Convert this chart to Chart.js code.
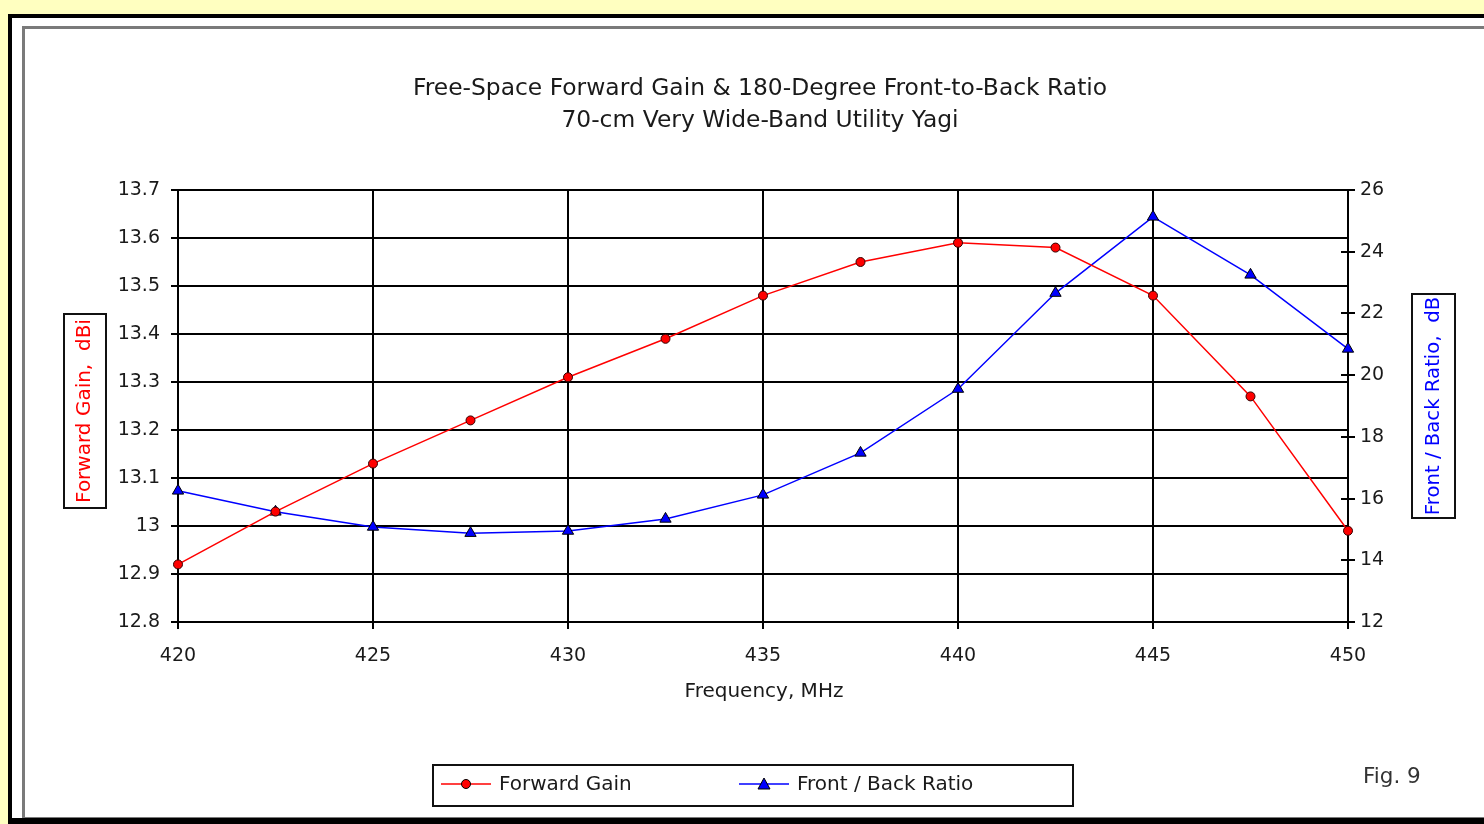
<!DOCTYPE html>
<html>
<head>
<meta charset="utf-8">
<title>70-cm Very Wide-Band Utility Yagi</title>
<script src="https://cdn.jsdelivr.net/npm/chart.js@4/dist/chart.umd.min.js"></script>
<style>
  html, body { margin: 0; padding: 0; background: #FFFFC0; }
  #wrap { width: 1484px; height: 824px; }
</style>
</head>
<body>
<div id="wrap"><canvas id="c" width="1484" height="824"></canvas></div>
<script>
// Frequencies (MHz) of the swept points
const freqs = [420, 422.5, 425, 427.5, 430, 432.5, 435, 437.5, 440, 442.5, 445, 447.5, 450];
// Free-space forward gain, dBi
const forwardGain = [12.92, 13.03, 13.13, 13.22, 13.31, 13.39, 13.48, 13.55, 13.59, 13.58, 13.48, 13.27, 12.99];
// 180-degree front-to-back ratio, dB
const frontBack = [16.25, 15.57, 15.08, 14.88, 14.95, 15.34, 16.12, 17.48, 19.55, 22.66, 25.13, 23.25, 20.85];

// Axis ticks
const freqTicks = [420, 425, 430, 435, 440, 445, 450];
const gainTicks = [12.8, 12.9, 13.0, 13.1, 13.2, 13.3, 13.4, 13.5, 13.6, 13.7];
const ratioTicks = [12, 14, 16, 18, 20, 22, 24, 26];

const titleLines = ['Free-Space Forward Gain & 180-Degree Front-to-Back Ratio', '70-cm Very Wide-Band Utility Yagi'];
const xTitle = 'Frequency, MHz';
const gainTitle = 'Forward Gain,  dBi';
const ratioTitle = 'Front / Back Ratio,  dB';
const seriesNames = ['Forward Gain', 'Front / Back Ratio'];
const figLabel = 'Fig. 9';

const FONT = '"DejaVu Sans", Verdana, sans-serif';
const RED = '#FF0000';
const BLUE = '#0000FF';

const fmt = v => String(Number(v.toFixed(1)));

// Page frame, titles, boxed axis titles, legend and figure label
const decor = {
  id: 'decor',
  beforeDraw(chart) {
    const ctx = chart.ctx;
    ctx.save();
    ctx.fillStyle = '#FFFFC0';
    ctx.fillRect(0, 0, 1484, 824);
    // outer black frame
    ctx.fillStyle = '#000';
    ctx.fillRect(8, 14, 1484, 810);
    ctx.fillStyle = '#fff';
    ctx.fillRect(12, 18, 1484, 800);
    // inner panel with gray edge and dark shadow
    ctx.fillStyle = '#000';
    ctx.fillRect(25, 818, 1484, 6);
    ctx.fillStyle = '#7a7a7a';
    ctx.fillRect(22, 26, 1484, 792);
    ctx.fillStyle = '#fff';
    ctx.fillRect(25, 29, 1484, 788);
    ctx.restore();
  },
  afterDraw(chart) {
    const ctx = chart.ctx;
    const area = chart.chartArea;
    ctx.save();
    // inner tick marks of the right axis (they cross the axis line)
    const yr = chart.scales.yRatio;
    ctx.strokeStyle = '#000';
    ctx.lineWidth = 2;
    ratioTicks.forEach(v => {
      const y = Math.round(yr.getPixelForValue(v));
      ctx.beginPath();
      ctx.moveTo(area.right - 7, y);
      ctx.lineTo(area.right, y);
      ctx.stroke();
    });

    // titles
    ctx.fillStyle = '#1a1a1a';
    ctx.textAlign = 'center';
    ctx.textBaseline = 'middle';
    ctx.font = '23.4px ' + FONT;
    ctx.fillText(titleLines[0], 760, 89);
    ctx.fillText(titleLines[1], 760, 121);

    ctx.font = '20px ' + FONT;
    ctx.fillText(xTitle, 764, 692);

    // boxed left axis title
    ctx.strokeStyle = '#111';
    ctx.lineWidth = 2;
    ctx.strokeRect(64, 314, 42, 194);
    ctx.save();
    ctx.translate(85, 411);
    ctx.rotate(-Math.PI / 2);
    ctx.fillStyle = RED;
    ctx.font = '20px ' + FONT;
    ctx.fillText(gainTitle, 0, 0);
    ctx.restore();

    // boxed right axis title
    ctx.strokeRect(1412, 294, 43, 224);
    ctx.save();
    ctx.translate(1434, 406);
    ctx.rotate(-Math.PI / 2);
    ctx.fillStyle = BLUE;
    ctx.font = '19.7px ' + FONT;
    ctx.fillText(ratioTitle, 0, 0);
    ctx.restore();

    // legend
    ctx.strokeStyle = '#111';
    ctx.lineWidth = 2;
    ctx.strokeRect(433, 765, 640, 41);
    const ly = 784;
    const items = [
      { x: 441, color: RED, shape: 'circle', name: seriesNames[0] },
      { x: 739, color: BLUE, shape: 'triangle', name: seriesNames[1] }
    ];
    items.forEach(it => {
      ctx.strokeStyle = it.color;
      ctx.lineWidth = 1.5;
      ctx.beginPath();
      ctx.moveTo(it.x, ly);
      ctx.lineTo(it.x + 50, ly);
      ctx.stroke();
      ctx.fillStyle = it.color;
      ctx.strokeStyle = '#000';
      ctx.beginPath();
      if (it.shape === 'circle') {
        ctx.arc(it.x + 25, ly, 4.5, 0, Math.PI * 2);
      } else {
        ctx.moveTo(it.x + 25, ly - 6);
        ctx.lineTo(it.x + 31, ly + 5);
        ctx.lineTo(it.x + 19, ly + 5);
        ctx.closePath();
      }
      ctx.fill();
      ctx.lineWidth = 1;
      ctx.stroke();
      ctx.fillStyle = '#1a1a1a';
      ctx.textAlign = 'left';
      ctx.font = '20px ' + FONT;
      ctx.fillText(it.name, it.x + 58, ly + 1);
    });

    ctx.fillStyle = '#333';
    ctx.textAlign = 'left';
    ctx.font = '21.5px ' + FONT;
    ctx.fillText(figLabel, 1363, 777);
    ctx.restore();
  }
};

const toPoints = ys => freqs.map((f, i) => ({ x: f, y: ys[i] }));
const setTicks = list => scale => { scale.ticks = list.map(v => ({ value: v })); };

new Chart(document.getElementById('c'), {
  type: 'line',
  data: {
    datasets: [
      {
        label: seriesNames[0],
        data: toPoints(forwardGain),
        yAxisID: 'yGain',
        borderColor: RED,
        borderWidth: 1.5,
        backgroundColor: RED,
        pointStyle: 'circle',
        pointRadius: 4.5,
        pointBorderColor: '#300',
        pointBorderWidth: 1,
        clip: false,
        tension: 0
      },
      {
        label: seriesNames[1],
        data: toPoints(frontBack),
        yAxisID: 'yRatio',
        borderColor: BLUE,
        borderWidth: 1.5,
        backgroundColor: BLUE,
        pointStyle: 'triangle',
        pointRadius: 6.5,
        pointBorderColor: '#000',
        pointBorderWidth: 1,
        clip: false,
        tension: 0
      }
    ]
  },
  options: {
    responsive: false,
    animation: false,
    devicePixelRatio: 1,
    layout: { padding: { top: 190, left: 0, right: 0, bottom: 0 } },
    plugins: { legend: { display: false }, title: { display: false }, tooltip: { enabled: false } },
    scales: {
      x: {
        type: 'linear',
        position: 'bottom',
        min: 420,
        max: 450,
        afterBuildTicks: setTicks(freqTicks),
        afterFit: s => { s.height = 202; },
        grid: { color: '#000', lineWidth: 2, tickLength: 7, tickColor: '#000' },
        border: { color: '#000', width: 2 },
        ticks: { color: '#1a1a1a', font: { size: 19, family: FONT }, padding: 16, maxRotation: 0, callback: v => String(v) }
      },
      yGain: {
        type: 'linear',
        position: 'left',
        min: 12.8,
        max: 13.7,
        afterBuildTicks: setTicks(gainTicks),
        afterFit: s => { s.width = 178; },
        grid: { color: '#000', lineWidth: 2, tickLength: 7, tickColor: '#000' },
        border: { color: '#000', width: 2 },
        ticks: { color: '#1a1a1a', font: { size: 19, family: FONT }, padding: 11, callback: v => fmt(v) }
      },
      yRatio: {
        type: 'linear',
        position: 'right',
        min: 12,
        max: 26,
        afterBuildTicks: setTicks(ratioTicks),
        afterFit: s => { s.width = 136; },
        grid: { drawOnChartArea: false, color: '#000', lineWidth: 2, tickLength: 7, tickColor: '#000' },
        border: { color: '#000', width: 2 },
        ticks: { color: '#1a1a1a', font: { size: 19, family: FONT }, padding: 5, callback: v => String(v) }
      }
    }
  },
  plugins: [decor]
});
</script>
</body>
</html>
